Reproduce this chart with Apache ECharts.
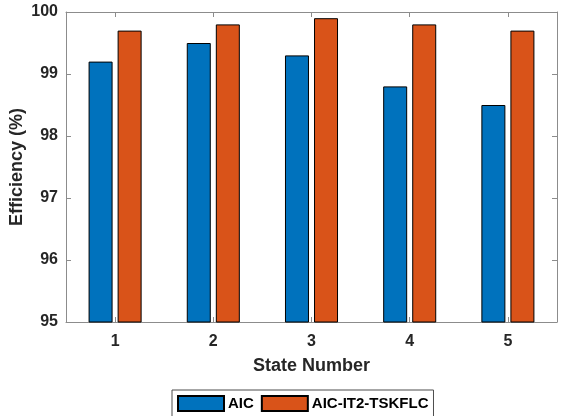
<!DOCTYPE html>
<html>
<head>
<meta charset="utf-8">
<script src="https://cdn.jsdelivr.net/npm/echarts@6/dist/echarts.min.js"></script>
<style>
  html, body { margin: 0; padding: 0; background: #fff; }
  #chart { width: 563px; height: 416px; }
</style>
</head>
<body>
<div id="chart"></div>
<script>
// Efficiency per state for the two controllers
const states = ['1', '2', '3', '4', '5'];
const aic = [99.2, 99.5, 99.3, 98.8, 98.5];
const aicIt2 = [99.7, 99.8, 99.9, 99.8, 99.7];
const yTicks = [95, 96, 97, 98, 99, 100];

const font = 'Liberation Sans, Arial, sans-serif';
const axisGray = '#8c8c8c';
const textDark = '#262626';

const chart = echarts.init(document.getElementById('chart'), null, { renderer: 'canvas' });

const boxAxisX = (pos, showLabels) => ({
  type: 'category',
  data: states,
  position: pos,
  boundaryGap: true,
  axisLine: { show: true, lineStyle: { color: axisGray, width: 1 } },
  axisTick: { show: true, inside: true, length: 5, alignWithLabel: true, lineStyle: { color: axisGray } },
  axisLabel: {
    show: showLabels, color: textDark, fontFamily: font, fontWeight: 'bold', fontSize: 16, margin: 12
  },
  splitLine: { show: false }
});

const boxAxisY = (pos, showLabels) => ({
  type: 'value',
  position: pos,
  min: yTicks[0],
  max: yTicks[yTicks.length - 1],
  interval: 1,
  axisLine: { show: true, lineStyle: { color: axisGray, width: 1 } },
  axisTick: { show: true, inside: true, length: 5, lineStyle: { color: axisGray } },
  axisLabel: {
    show: showLabels, color: textDark, fontFamily: font, fontWeight: 'bold', fontSize: 16, margin: 8
  },
  splitLine: { show: false }
});

const xBottom = Object.assign(boxAxisX('bottom', true), {
  name: 'State Number',
  nameLocation: 'middle',
  nameGap: 35,
  nameMoveOverlap: false,
  nameTextStyle: { color: textDark, fontFamily: font, fontWeight: 'bold', fontSize: 18 }
});
const yLeft = Object.assign(boxAxisY('left', true), {
  name: 'Efficiency (%)',
  nameLocation: 'middle',
  nameGap: 40,
  nameMoveOverlap: false,
  nameTextStyle: { color: textDark, fontFamily: font, fontWeight: 'bold', fontSize: 18 }
});

chart.setOption({
  animation: false,
  backgroundColor: '#fff',
  grid: { left: 66, right: 6, top: 12, bottom: 94, containLabel: false, outerBoundsMode: 'none' },
  legend: {
    top: 390,
    left: 172,
    icon: 'rect',
    itemWidth: 46,
    itemHeight: 15,
    itemGap: 7,
    padding: [5, 5, 10, 5],
    borderColor: '#4d4d4d',
    borderWidth: 1,
    textStyle: { color: '#000', fontFamily: font, fontWeight: 'bold', fontSize: 15, padding: [0, 0, 0, -1] },
    data: ['AIC', 'AIC-IT2-TSKFLC']
  },
  xAxis: [xBottom, boxAxisX('top', false)],
  yAxis: [yLeft, boxAxisY('right', false)],
  series: [
    {
      name: 'AIC',
      type: 'bar',
      data: aic,
      barWidth: 24,
      barGap: '21%',
      itemStyle: { color: '#0072BD', borderColor: '#000', borderWidth: 1 }
    },
    {
      name: 'AIC-IT2-TSKFLC',
      type: 'bar',
      data: aicIt2,
      barWidth: 24,
      barGap: '21%',
      itemStyle: { color: '#D95319', borderColor: '#000', borderWidth: 1 }
    }
  ]
});
</script>
</body>
</html>
